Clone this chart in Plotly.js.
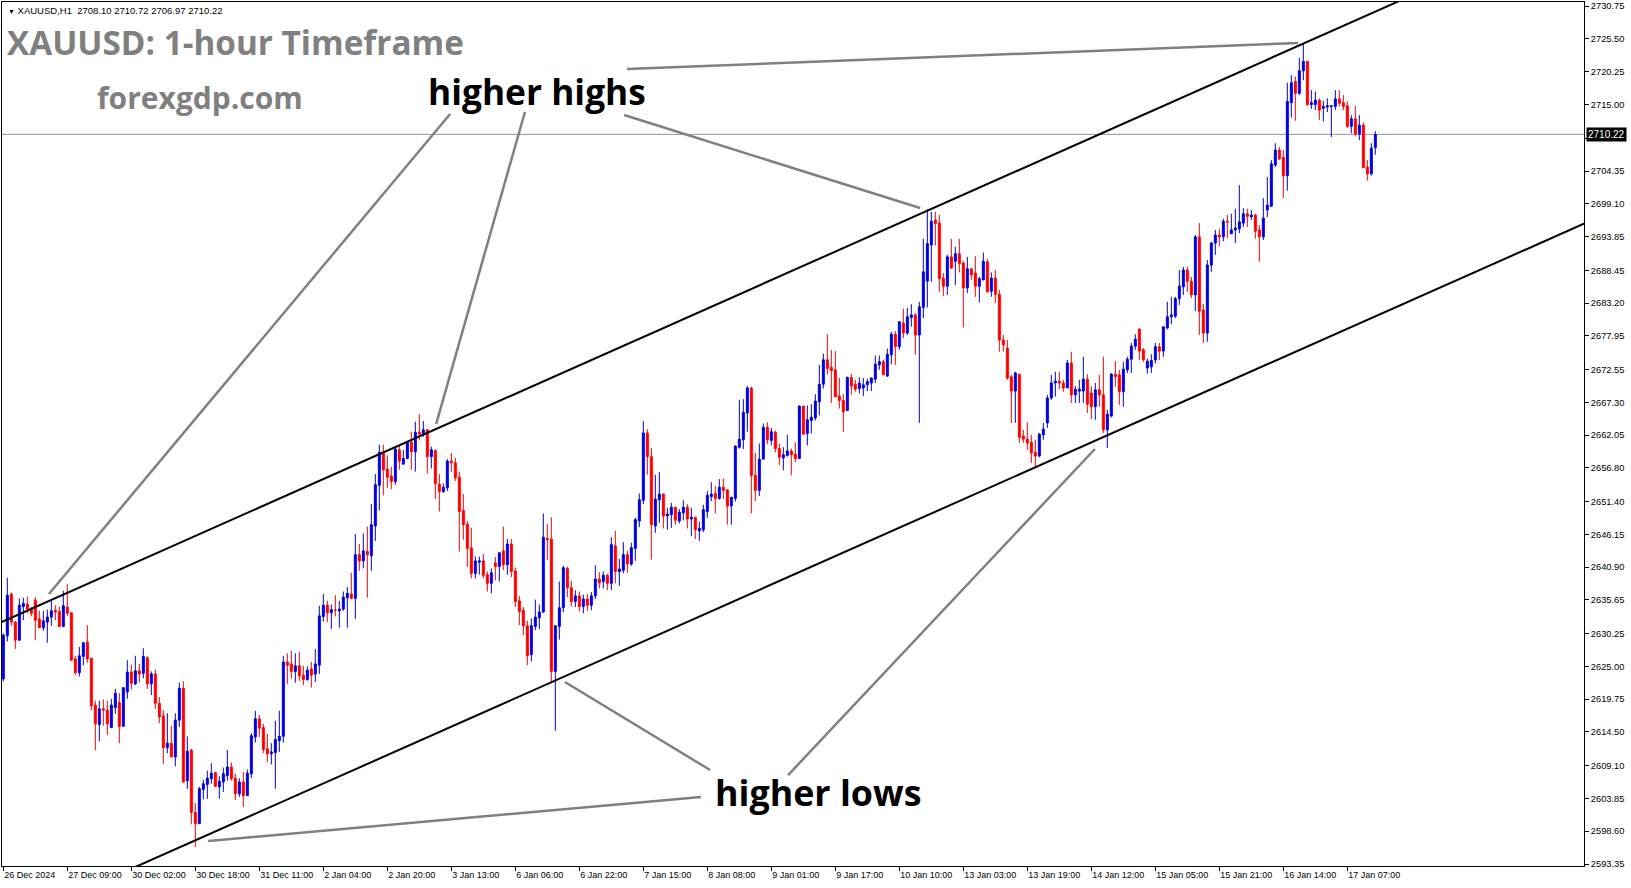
<!DOCTYPE html>
<html>
<head>
<meta charset="utf-8">
<script src="https://cdn.plot.ly/plotly-3.0.1.min.js"></script>
<style>
  html, body { margin: 0; padding: 0; background: #ffffff; }
  #chart { width: 1631px; height: 888px; }
</style>
</head>
<body>
<div id="chart"></div>
<script>
// ---- Data (XAUUSD, H1) ----
const symbolName = "XAUUSD,H1";

const openPrices = [
2623.0,2629.9,2636.6,2632.1,2629.2,2634.6,2635.0,2634.3,2635.6,2632.6,
2631.2,2632.1,2632.9,2634.0,2633.8,2631.4,2634.5,2633.6,2626.2,2624.0,
2626.6,2628.9,2626.3,2618.8,2615.7,2618.2,2618.0,2615.2,2618.4,2619.2,
2615.4,2620.9,2624.1,2622.2,2624.3,2623.9,2626.4,2622.2,2623.8,2619.1,
2617.1,2612.0,2612.7,2610.5,2616.4,2621.5,2606.7,2611.6,2601.6,2599.8,
2605.3,2606.1,2607.0,2608.0,2605.7,2606.5,2607.5,2608.9,2607.1,2604.6,
2606.5,2604.3,2607.8,2613.7,2616.6,2615.2,2611.8,2611.0,2611.2,2613.1,
2613.8,2625.7,2625.4,2624.2,2625.1,2623.6,2622.9,2624.6,2623.8,2625.2,
2633.0,2634.8,2633.6,2634.0,2633.9,2634.2,2636.0,2636.6,2635.9,2642.9,
2641.9,2643.4,2642.7,2647.5,2654.0,2659.3,2656.6,2655.5,2654.6,2659.7,
2657.4,2658.3,2660.9,2659.4,2662.5,2662.2,2662.9,2658.6,2659.6,2654.2,
2653.0,2653.6,2657.9,2657.6,2655.3,2650.0,2647.8,2644.0,2639.9,2641.7,
2641.9,2639.7,2638.3,2641.6,2641.0,2643.5,2641.3,2644.6,2640.3,2635.5,
2634.0,2631.5,2626.9,2631.4,2632.8,2633.7,2645.5,2645.4,2624.2,2631.4,
2634.4,2640.7,2637.6,2635.4,2636.3,2634.6,2635.8,2634.8,2636.3,2639.0,
2638.6,2639.6,2638.3,2644.3,2640.2,2640.4,2642.9,2641.4,2643.9,2648.3,
2651.6,2662.4,2658.6,2647.5,2651.7,2652.6,2649.1,2649.3,2650.5,2648.3,
2649.6,2650.5,2648.6,2648.9,2646.7,2646.9,2649.8,2652.2,2652.7,2651.9,
2653.7,2653.3,2650.7,2651.9,2660.1,2661.3,2665.6,2669.6,2655.6,2653.2,
2658.2,2663.3,2661.2,2662.5,2659.9,2658.4,2658.8,2659.5,2659.0,2658.3,
2666.7,2662.3,2664.4,2664.8,2667.4,2670.2,2674.1,2672.9,2672.5,2668.3,
2667.6,2666.0,2671.3,2670.2,2669.5,2669.6,2670.1,2670.4,2671.0,2673.3,
2673.8,2671.5,2674.9,2678.2,2676.2,2680.0,2678.4,2680.9,2681.3,2678.1,
2682.5,2686.7,2692.5,2696.5,2696.0,2687.2,2685.9,2690.6,2689.9,2691.1,
2689.6,2685.6,2688.7,2688.0,2685.9,2686.9,2689.8,2685.1,2687.2,2684.6,
2677.3,2676.0,2671.4,2669.1,2671.8,2661.9,2661.4,2660.9,2659.3,2658.7,
2662.1,2664.0,2668.0,2670.4,2670.7,2670.4,2669.6,2673.6,2668.5,2669.1,
2669.1,2671.0,2668.8,2666.6,2669.3,2668.5,2662.9,2665.1,2671.8,2671.7,
2669.0,2672.5,2674.2,2676.3,2679.0,2675.7,2672.8,2673.0,2674.1,2676.2,
2675.5,2679.2,2681.0,2681.1,2683.9,2685.8,2688.5,2686.7,2684.5,2693.8,
2682.1,2678.4,2689.3,2692.8,2694.1,2693.8,2696.3,2694.3,2694.9,2695.1,
2696.0,2697.5,2697.0,2697.3,2694.9,2693.8,2698.1,2698.7,2705.3,2707.7,
2706.5,2703.6,2715.3,2718.7,2716.8,2720.4,2721.9,2715.0,2715.0,2715.7,
2714.4,2714.6,2714.7,2714.7,2715.9,2715.3,2714.8,2711.5,2712.7,2710.3,
2711.7,2705.0,2703.9,2708.10
];

const highPrices = [
2630.3,2639.2,2636.8,2632.3,2635.9,2636.0,2636.2,2634.5,2636.1,2633.9,
2633.9,2634.1,2635.5,2634.8,2634.6,2637.1,2638.2,2633.6,2626.7,2628.1,
2628.9,2631.6,2626.4,2619.5,2619.5,2619.7,2619.5,2619.8,2621.4,2620.7,
2621.6,2626.0,2625.3,2626.7,2625.4,2627.9,2626.6,2624.2,2624.5,2620.1,
2618.0,2617.5,2615.5,2617.5,2622.4,2622.6,2613.8,2611.8,2603.1,2605.7,
2606.8,2608.3,2609.5,2608.1,2607.4,2608.8,2611.6,2609.6,2607.8,2607.1,
2608.1,2608.5,2614.3,2617.9,2617.2,2615.8,2614.2,2612.7,2616.3,2617.9,
2626.7,2627.1,2627.5,2627.1,2627.3,2625.1,2625.0,2625.7,2627.8,2634.7,
2636.6,2635.5,2634.9,2636.4,2635.5,2637.0,2637.7,2640.0,2646.2,2644.6,
2646.3,2647.4,2651.0,2655.8,2660.5,2660.5,2658.8,2657.0,2660.3,2660.4,
2659.7,2661.0,2662.6,2664.2,2665.4,2664.3,2663.0,2660.2,2659.7,2655.8,
2654.3,2658.2,2659.2,2658.4,2656.2,2652.6,2648.3,2647.2,2642.6,2642.6,
2643.0,2640.2,2640.7,2642.5,2643.3,2647.4,2645.4,2645.4,2640.8,2636.3,
2634.5,2632.3,2632.7,2635.7,2634.9,2649.5,2647.8,2648.9,2631.6,2638.6,
2641.1,2641.0,2638.7,2637.2,2637.0,2636.5,2636.6,2636.9,2641.2,2640.1,
2640.2,2639.8,2645.7,2646.7,2642.2,2644.9,2643.5,2644.8,2648.8,2652.7,
2664.3,2663.0,2660.0,2655.7,2656.1,2652.7,2650.4,2651.2,2650.5,2650.2,
2651.6,2651.0,2650.4,2648.9,2648.2,2650.9,2653.1,2654.5,2653.9,2655.0,
2655.1,2653.3,2652.1,2660.4,2667.7,2667.8,2669.9,2669.8,2659.2,2660.7,
2663.9,2664.1,2663.2,2662.8,2660.7,2660.1,2662.1,2659.9,2660.9,2666.8,
2666.7,2666.8,2667.0,2668.6,2673.3,2675.1,2678.2,2675.7,2675.5,2671.2,
2668.6,2671.4,2671.9,2670.9,2671.3,2671.2,2671.1,2671.3,2674.8,2674.8,
2674.1,2675.9,2678.6,2678.7,2680.3,2682.3,2682.4,2683.0,2681.6,2683.4,
2693.5,2698.2,2697.8,2697.8,2697.3,2688.0,2690.9,2693.5,2692.2,2693.5,
2689.9,2690.6,2688.7,2690.7,2687.4,2691.3,2690.3,2688.1,2688.5,2685.3,
2678.1,2677.3,2671.7,2672.2,2671.8,2662.9,2664.1,2662.1,2661.3,2662.4,
2664.0,2668.5,2671.7,2672.2,2672.2,2670.9,2674.1,2675.4,2669.9,2670.9,
2674.6,2671.8,2669.9,2670.4,2671.7,2674.6,2666.1,2672.0,2673.9,2672.5,
2673.8,2674.6,2676.8,2678.2,2679.2,2676.0,2674.3,2675.0,2676.8,2676.8,
2679.4,2683.4,2684.2,2684.2,2688.5,2689.0,2689.0,2687.4,2694.1,2696.0,
2683.1,2690.1,2693.0,2694.9,2695.1,2696.7,2697.3,2697.5,2698.3,2702.1,
2698.4,2698.3,2698.1,2697.5,2695.7,2700.0,2703.4,2706.1,2708.8,2708.2,
2707.7,2718.5,2719.7,2719.5,2722.5,2724.8,2722.0,2717.3,2717.1,2716.0,
2715.6,2716.0,2714.8,2717.3,2717.3,2716.5,2715.5,2713.3,2714.8,2713.3,
2712.1,2706.1,2708.8,2710.72
];

const lowPrices = [
2622.6,2629.0,2631.5,2627.8,2629.1,2632.4,2633.5,2633.0,2629.2,2631.2,
2630.7,2628.8,2631.5,2632.4,2631.4,2631.4,2633.1,2625.9,2623.6,2623.4,
2625.2,2625.6,2618.0,2611.6,2613.0,2615.5,2614.0,2615.2,2617.4,2612.7,
2615.4,2619.8,2621.3,2622.0,2622.4,2623.1,2621.4,2620.4,2618.2,2615.9,
2609.4,2611.1,2610.5,2609.0,2615.3,2606.4,2605.4,2599.7,2596.1,2599.8,
2603.7,2603.8,2606.2,2605.7,2603.8,2604.9,2606.7,2606.7,2603.6,2604.1,
2602.5,2604.3,2607.1,2612.8,2613.7,2611.1,2609.7,2609.3,2605.4,2611.3,
2612.8,2622.2,2623.0,2622.4,2622.7,2622.0,2622.7,2621.6,2622.5,2623.8,
2632.2,2632.1,2631.0,2633.0,2631.2,2633.9,2631.2,2635.8,2632.6,2640.3,
2640.7,2636.0,2640.3,2645.1,2650.0,2652.4,2653.6,2653.4,2654.1,2656.5,
2657.3,2658.2,2656.5,2656.2,2661.2,2661.8,2655.9,2656.7,2651.8,2649.8,
2652.8,2653.1,2656.1,2654.7,2643.4,2645.3,2640.9,2639.1,2639.1,2639.7,
2639.1,2637.0,2636.7,2638.8,2638.6,2640.4,2639.7,2639.3,2634.5,2631.6,
2630.0,2625.2,2625.8,2630.8,2631.0,2633.6,2642.0,2622.3,2614.7,2629.3,
2633.7,2636.1,2634.6,2634.5,2633.8,2633.5,2633.9,2634.0,2635.8,2637.5,
2637.5,2637.2,2637.2,2638.3,2637.9,2639.9,2640.0,2641.1,2641.9,2647.3,
2651.0,2655.7,2642.1,2646.4,2648.0,2647.1,2646.9,2647.2,2647.7,2647.9,
2648.4,2647.1,2645.9,2645.4,2645.1,2646.5,2648.8,2651.5,2649.5,2651.7,
2651.8,2647.7,2647.7,2651.4,2659.9,2659.8,2662.6,2649.5,2651.5,2652.3,
2658.2,2660.6,2660.4,2659.3,2657.2,2656.4,2658.6,2655.6,2657.7,2658.3,
2662.1,2660.4,2662.3,2664.4,2665.2,2669.5,2671.8,2667.2,2668.1,2666.3,
2662.6,2666.0,2668.5,2669.0,2668.7,2668.3,2669.1,2669.1,2670.4,2672.5,
2671.7,2671.4,2673.4,2673.3,2675.7,2677.6,2678.1,2679.4,2674.9,2664.0,
2680.8,2682.5,2686.6,2692.4,2685.0,2684.3,2684.5,2688.7,2686.1,2688.1,
2679.3,2684.8,2686.9,2684.2,2683.3,2686.9,2684.9,2684.2,2683.2,2675.4,
2675.4,2670.9,2664.0,2664.0,2660.8,2660.8,2659.7,2657.6,2656.9,2658.5,
2661.3,2663.2,2667.7,2668.2,2669.4,2669.0,2669.6,2667.2,2667.2,2667.2,
2667.2,2665.6,2664.6,2664.5,2666.6,2662.4,2660.0,2664.9,2669.8,2666.9,
2666.6,2672.0,2672.0,2675.7,2674.1,2673.8,2671.9,2672.0,2673.5,2674.1,
2674.6,2679.0,2679.8,2680.8,2682.9,2684.5,2685.0,2684.0,2681.9,2678.1,
2676.8,2677.0,2688.2,2690.9,2692.3,2693.1,2693.6,2694.3,2692.8,2694.4,
2695.4,2695.4,2696.5,2693.5,2689.8,2693.3,2697.0,2698.6,2705.0,2706.1,
2700.0,2701.2,2712.9,2712.4,2716.5,2718.9,2714.8,2714.3,2714.1,2712.5,
2712.3,2713.8,2709.8,2714.1,2714.7,2714.1,2711.3,2710.4,2710.0,2709.3,
2704.8,2702.8,2703.6,2706.97
];

const closePrices = [
2630.0,2636.4,2632.1,2629.2,2634.8,2635.1,2634.2,2633.5,2632.4,2631.2,
2632.3,2632.9,2633.9,2633.7,2631.4,2634.7,2633.5,2626.0,2624.0,2626.7,
2628.8,2626.2,2618.7,2615.8,2618.2,2618.0,2615.8,2618.8,2620.7,2615.4,
2621.6,2624.1,2622.3,2624.3,2623.8,2626.6,2622.2,2623.8,2619.1,2616.9,
2612.0,2612.7,2610.5,2616.4,2621.5,2606.5,2611.4,2601.6,2599.8,2605.4,
2606.2,2607.1,2607.9,2605.8,2606.6,2607.8,2608.9,2607.0,2604.6,2606.5,
2604.3,2607.9,2613.9,2616.6,2615.1,2611.7,2611.0,2611.3,2613.3,2613.8,
2625.7,2625.2,2624.2,2625.1,2623.5,2622.9,2624.4,2623.6,2625.4,2633.1,
2634.8,2633.6,2634.1,2634.0,2634.2,2636.1,2636.7,2635.9,2642.9,2641.9,
2643.5,2642.9,2647.7,2654.1,2659.3,2656.5,2655.3,2654.6,2659.8,2657.9,
2658.3,2660.9,2659.4,2662.5,2662.2,2662.9,2658.6,2659.7,2654.3,2653.0,
2653.7,2657.9,2657.6,2655.2,2649.8,2647.7,2643.9,2639.9,2641.9,2641.9,
2639.6,2638.3,2640.0,2641.0,2643.2,2641.3,2644.6,2640.2,2635.4,2633.8,
2631.5,2626.7,2631.5,2632.9,2633.7,2645.7,2645.3,2624.2,2631.5,2634.4,
2640.8,2637.6,2635.4,2636.3,2634.6,2635.8,2634.8,2636.3,2639.0,2638.4,
2639.6,2638.3,2644.5,2640.2,2640.6,2642.9,2641.4,2644.0,2648.5,2651.7,
2662.4,2658.6,2647.7,2651.8,2652.6,2649.1,2649.4,2650.5,2648.4,2649.7,
2650.5,2648.6,2648.9,2646.9,2647.1,2650.1,2652.4,2652.6,2651.9,2653.7,
2653.2,2650.7,2652.1,2660.3,2661.4,2665.7,2669.6,2655.6,2653.2,2658.2,
2663.3,2661.3,2662.6,2659.9,2658.5,2658.9,2659.5,2658.9,2658.3,2666.7,
2662.2,2664.5,2664.9,2667.5,2670.2,2674.1,2672.7,2672.4,2668.2,2667.6,
2665.8,2671.3,2669.9,2669.4,2670.4,2670.1,2670.6,2671.2,2673.4,2673.8,
2671.7,2675.0,2678.2,2676.2,2680.2,2678.4,2681.0,2681.3,2678.1,2682.6,
2688.2,2692.7,2696.3,2695.9,2687.1,2685.9,2690.6,2688.8,2691.1,2689.5,
2685.6,2688.7,2687.7,2685.9,2687.1,2689.9,2685.0,2687.2,2684.6,2677.3,
2676.5,2671.2,2669.1,2672.0,2661.7,2661.4,2660.8,2659.2,2658.7,2662.2,
2663.0,2668.0,2670.4,2670.7,2670.4,2669.6,2673.6,2668.5,2669.4,2669.4,
2671.0,2667.0,2666.6,2669.3,2668.5,2662.9,2665.4,2671.8,2671.4,2669.0,
2672.6,2674.2,2676.3,2677.4,2675.5,2674.1,2673.9,2674.0,2676.2,2675.5,
2679.4,2681.0,2681.3,2683.9,2685.9,2688.5,2686.7,2684.5,2693.8,2681.9,
2678.4,2689.3,2692.8,2694.1,2693.8,2696.3,2696.2,2694.9,2695.2,2696.2,
2697.5,2697.1,2697.3,2694.7,2693.8,2696.8,2698.9,2705.5,2707.7,2706.3,
2703.6,2715.5,2718.5,2716.8,2720.4,2721.9,2715.0,2715.3,2715.7,2714.1,
2714.7,2714.8,2714.8,2715.9,2715.2,2714.7,2711.5,2712.7,2710.3,2711.7,
2704.9,2703.9,2708.0,2710.22
];

// time axis labels (every 16th hourly bar)
const timeTickBars = [0,16,32,48,64,80,96,112,128,144,160,176,192,208,224,240,256,272,288,304,320,336];
const timeTickLabels = ["26 Dec 2024","27 Dec 09:00","30 Dec 02:00","30 Dec 18:00","31 Dec 11:00",
  "2 Jan 04:00","2 Jan 20:00","3 Jan 13:00","6 Jan 06:00","6 Jan 22:00","7 Jan 15:00",
  "8 Jan 08:00","9 Jan 01:00","9 Jan 17:00","10 Jan 10:00","13 Jan 03:00","13 Jan 19:00",
  "14 Jan 12:00","15 Jan 05:00","15 Jan 21:00","16 Jan 14:00","17 Jan 07:00"];

// price scale labels (the one under the current-price box is hidden by it)
const priceTicks = [2730.75,2725.50,2720.25,2715.00,2709.60,2704.35,2699.10,2693.85,2688.45,
  2683.20,2677.95,2672.55,2667.30,2662.05,2656.80,2651.40,2646.15,2640.90,2635.65,2630.25,
  2625.00,2619.75,2614.50,2609.10,2603.85,2598.60,2593.35];
const hiddenPriceTick = 2709.60;

// channel trend lines (bar index, price)
const upperChannelBars = [-1, 380];
const upperChannelPrices = [2631.94, 2740.41];
const lowerChannelBars = [-10, 400];
const lowerChannelPrices = [2580.64, 2697.29];

// callout pointer lines: [barFrom, priceFrom, barTo, priceTo]
const highCallouts = [
  [111.7, 2713.48, 11.4, 2636.59],
  [130.4, 2713.80, 108.2, 2663.82],
  [155.2, 2713.32, 229.2, 2698.42],
  [155.9, 2720.69, 323.7, 2724.85]
];
const lowCallouts = [
  [176.7, 2608.40, 140.4, 2622.50],
  [196.2, 2607.60, 272.9, 2659.82],
  [174.4, 2604.07, 51.2, 2597.03]
];

// ---- Build chart ----
const barIndex = openPrices.map((_, i) => i);
const lastI = closePrices.length - 1;
const fmt = v => v.toFixed(2);

const traces = [];
traces.push({
  type: 'candlestick',
  x: barIndex, open: openPrices, high: highPrices, low: lowPrices, close: closePrices,
  increasing: { line: { color: '#0000dd', width: 1 }, fillcolor: '#0000dd' },
  decreasing: { line: { color: '#ff0000', width: 1 }, fillcolor: '#ff0000' },
  whiskerwidth: 0, hoverinfo: 'skip', showlegend: false
});
traces.push({ type: 'scatter', mode: 'lines', x: upperChannelBars, y: upperChannelPrices,
  line: { color: '#000000', width: 2 }, hoverinfo: 'skip', showlegend: false });
traces.push({ type: 'scatter', mode: 'lines', x: lowerChannelBars, y: lowerChannelPrices,
  line: { color: '#000000', width: 2 }, hoverinfo: 'skip', showlegend: false });
highCallouts.concat(lowCallouts).forEach(c => {
  traces.push({ type: 'scatter', mode: 'lines', x: [c[0], c[2]], y: [c[1], c[3]],
    line: { color: '#808080', width: 2.5 }, hoverinfo: 'skip', showlegend: false });
});

const PL = 2, PR = 1584, PT = 2, PB = 866;
const px = x => (x - PL) / (PR - PL);
const py = y => 1 - (y - PT) / (PB - PT);

const annotations = [
  { xref: 'paper', yref: 'paper', x: px(6), y: py(11), xanchor: 'left', yanchor: 'middle', showarrow: false,
    text: '<span style="font-size:7px">▼</span> ' + symbolName + '  ' + fmt(openPrices[lastI]) + ' ' + fmt(highPrices[lastI]) + ' ' + fmt(lowPrices[lastI]) + ' ' + fmt(closePrices[lastI]),
    font: { family: 'Liberation Sans, Arial, sans-serif', size: 9.5, color: '#000000' } },
  { xref: 'paper', yref: 'paper', x: px(5), y: py(42), xanchor: 'left', yanchor: 'middle', showarrow: false,
    text: '<b>XAUUSD: 1-hour Timeframe</b>', font: { family: 'Open Sans, sans-serif', size: 33.3, color: '#808080' } },
  { xref: 'paper', yref: 'paper', x: px(95), y: py(97), xanchor: 'left', yanchor: 'middle', showarrow: false,
    text: '<b>forexgdp.com</b>', font: { family: 'Open Sans, sans-serif', size: 30, color: '#808080' } },
  { xref: 'paper', yref: 'paper', x: px(426), y: py(91), xanchor: 'left', yanchor: 'middle', showarrow: false,
    text: '<b>higher highs</b>', font: { family: 'Open Sans, sans-serif', size: 35.3, color: '#000000' } },
  { xref: 'paper', yref: 'paper', x: px(713), y: py(792), xanchor: 'left', yanchor: 'middle', showarrow: false,
    text: '<b>higher lows</b>', font: { family: 'Open Sans, sans-serif', size: 35.8, color: '#000000' } },
  { xref: 'paper', yref: 'y', x: 1, y: closePrices[lastI], xanchor: 'left', yanchor: 'middle', xshift: 2,
    showarrow: false, text: fmt(closePrices[lastI]), bgcolor: '#000000', borderpad: 1,
    font: { family: 'Liberation Sans, Arial, sans-serif', size: 10, color: '#ffffff' } }
];

const layout = {
  width: 1631, height: 888,
  margin: { l: PL, r: 1631 - PR, t: PT, b: 888 - PB, pad: 0 },
  paper_bgcolor: '#ffffff', plot_bgcolor: '#ffffff',
  showlegend: false,
  boxgap: 0.3,
  xaxis: {
    range: [-0.33, 395.17], tickmode: 'array', tickvals: timeTickBars, ticktext: timeTickLabels,
    ticks: 'outside', ticklen: 4, tickcolor: '#000000', ticklabelposition: 'outside right',
    showline: true, linecolor: '#000000', linewidth: 1, mirror: true,
    showgrid: false, zeroline: false, rangeslider: { visible: false }, fixedrange: true,
    tickfont: { family: 'Liberation Sans, Arial, sans-serif', size: 9, color: '#000000' }
  },
  yaxis: {
    side: 'right', range: [2593.03, 2731.42], tickmode: 'array', tickvals: priceTicks,
    ticktext: priceTicks.map(v => v === hiddenPriceTick ? '' : fmt(v)),
    ticks: 'outside', ticklen: 4, tickcolor: '#000000',
    showline: true, linecolor: '#000000', linewidth: 1, mirror: true,
    showgrid: false, zeroline: false, fixedrange: true,
    tickfont: { family: 'Liberation Sans, Arial, sans-serif', size: 9.3, color: '#000000' }
  },
  shapes: [
    { type: 'line', xref: 'paper', yref: 'y', x0: 0, x1: 1, y0: closePrices[lastI], y1: closePrices[lastI],
      line: { color: '#8a95a0', width: 1 }, layer: 'below' }
  ],
  annotations: annotations
};

Plotly.newPlot('chart', traces, layout, { staticPlot: true, displayModeBar: false });
</script>
</body>
</html>
